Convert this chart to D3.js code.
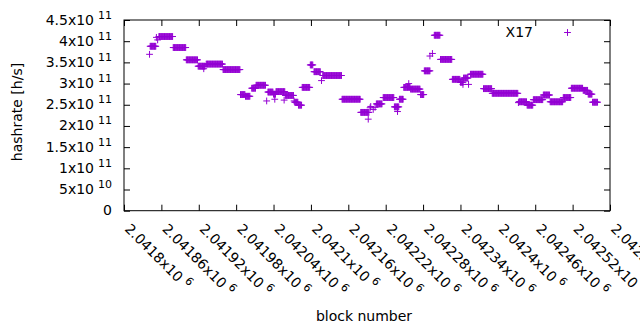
<!DOCTYPE html>
<html><head><meta charset="utf-8">
<script src="https://cdn.jsdelivr.net/npm/d3@7"></script>
<style>
body{margin:0;background:#fff}
svg{display:block}
text{font-family:"DejaVu Sans",sans-serif;fill:#000}
</style>
</head><body>
<svg id="c" width="640" height="330"></svg>
<script>
const seriesName = "X17";
// runs of blocks sharing the same hashrate
const runStart = [2041842,2041856,2041879,2041900,2041919,2041932,2041959,2041987,2041995,2042005,
                  2042012,2042031,2042040,2042044,2042059,2042074,2042080,2042086,2042099,2042105,
                  2042119,2042150,2042180,2042205,2042216,2042234,2042242,2042249,2042260,2042276,
                  2042282,2042298,2042308,2042328,2042340,2042345,2042356,2042377,2042391,2042434,
                  2042447,2042457,2042473,2042484,2042505,2042518,2042537,2042545,2042552];
const runEnd   = [2041851,2041878,2041899,2041918,2041930,2041958,2041986,2041994,2042002,2042011,
                  2042027,2042039,2042043,2042058,2042072,2042079,2042085,2042098,2042103,2042115,
                  2042149,2042179,2042193,2042214,2042233,2042241,2042248,2042259,2042275,2042281,
                  2042291,2042307,2042326,2042339,2042344,2042352,2042376,2042390,2042432,2042446,
                  2042456,2042472,2042483,2042504,2042517,2042536,2042544,2042551,2042560];
const runValue = [3.88e11,4.11e11,3.85e11,3.56e11,3.41e11,3.46e11,3.33e11,2.74e11,2.70e11,2.89e11,
                  2.96e11,2.80e11,2.75e11,2.81e11,2.72e11,2.56e11,2.49e11,2.91e11,3.44e11,3.28e11,
                  3.19e11,2.63e11,2.32e11,2.52e11,2.67e11,2.45e11,2.63e11,2.91e11,2.87e11,2.74e11,
                  3.30e11,4.14e11,3.57e11,3.10e11,3.03e11,3.13e11,3.22e11,2.88e11,2.77e11,2.57e11,
                  2.49e11,2.62e11,2.73e11,2.57e11,2.67e11,2.89e11,2.84e11,2.75e11,2.56e11];
// single off-level blocks
const isoBlock = [2041841,2041852,2041854,2041928,2042029,2042042,2042057,2042073,2042117,2042192,
                  2042195,2042196,2042200,2042203,2042239,2042257,2042291,2042295,2042327,2042344,
                  2042353,2042433];
const isoValue = [3.69e11,4.09e11,4.03e11,3.35e11,2.59e11,2.63e11,2.61e11,2.59e11,3.07e11,2.16e11,
                  2.43e11,2.46e11,2.39e11,2.44e11,2.34e11,3.00e11,3.65e11,3.71e11,3.10e11,2.98e11,
                  2.98e11,2.55e11];

const xTicks = [2041800,2041860,2041920,2041980,2042040,2042100,2042160,2042220,2042280,2042340,2042400,2042460,2042520,2042580];
const xTickLabels = ["2.0418x10^6","2.04186x10^6","2.04192x10^6","2.04198x10^6","2.04204x10^6","2.0421x10^6",
                     "2.04216x10^6","2.04222x10^6","2.04228x10^6","2.04234x10^6","2.0424x10^6","2.04246x10^6",
                     "2.04252x10^6","2.04258x10^6"];
const yTicks = [0,5e10,1e11,1.5e11,2e11,2.5e11,3e11,3.5e11,4e11,4.5e11];
const yTickLabels = ["0","5x10^10","1x10^11","1.5x10^11","2x10^11","2.5x10^11","3x10^11","3.5x10^11","4x10^11","4.5x10^11"];

const color = "#9400d3";
const L=124, R=610, T=20, B=210.7;
const svg = d3.select("#c");
const x = d3.scaleLinear().domain([2041800,2042580]).range([L,R]);
const y = d3.scaleLinear().domain([0,4.5e11]).range([B,T]);

// build point list
const pts = [];
runStart.forEach((s,i)=>{ for(let b=s;b<=runEnd[i];b++) pts.push({b, v:runValue[i]}); });
isoBlock.forEach((b,i)=>pts.push({b, v:isoValue[i]}));

// axes (ticks only, mirrored on all sides)
const tl = 6;
svg.append("g").attr("transform",`translate(0,${B})`)
  .call(d3.axisBottom(x).tickValues(xTicks).tickSize(-tl).tickSizeOuter(0).tickFormat(""));
svg.append("g").attr("transform",`translate(0,${T})`)
  .call(d3.axisTop(x).tickValues(xTicks).tickSize(-tl).tickSizeOuter(0).tickFormat(""));
svg.append("g").attr("transform",`translate(${L},0)`)
  .call(d3.axisLeft(y).tickValues(yTicks).tickSize(-tl).tickSizeOuter(0).tickFormat(""));
svg.append("g").attr("transform",`translate(${R},0)`)
  .call(d3.axisRight(y).tickValues(yTicks).tickSize(-tl).tickSizeOuter(0).tickFormat(""));
svg.selectAll(".domain").remove();
svg.selectAll(".tick line").attr("stroke","#000").attr("stroke-width",1);

svg.append("rect").attr("x",L).attr("y",T).attr("width",R-L).attr("height",B-T)
  .attr("fill","none").attr("stroke","#000").attr("stroke-width",1);

function addLabel(t, str){
  const [m,e] = str.split("^");
  t.append("tspan").text(m);
  if(e) t.append("tspan").attr("dx",4).attr("dy",-6).attr("font-size",11).text(e);
}
// y tick labels
yTicks.forEach((v,i)=>{
  const t = svg.append("text").attr("x",112).attr("y",y(v)+4.5)
    .attr("text-anchor","end").attr("font-size",14);
  addLabel(t, yTickLabels[i]);
});
// x tick labels rotated
xTicks.forEach((v,i)=>{
  const t = svg.append("text").attr("transform",`translate(${x(v)},${B+19}) rotate(45)`)
    .attr("text-anchor","start").attr("font-size",14);
  addLabel(t, xTickLabels[i]);
});

svg.append("text").attr("x",364).attr("y",321).attr("text-anchor","middle").attr("font-size",14).text("block number");
svg.append("text").attr("transform","translate(22,112) rotate(-90)").attr("text-anchor","middle").attr("font-size",14).text("hashrate [h/s]");

// points
const plus = (cx,cy,s)=>`M${cx-s},${cy}h${2*s}M${cx},${cy-s}v${2*s}`;
svg.append("g").selectAll("path").data(pts).join("path")
  .attr("d",d=>plus(x(d.b),y(d.v),3.4))
  .attr("stroke",color).attr("stroke-width",1).attr("fill","none");

// legend
svg.append("text").attr("x",533).attr("y",37).attr("text-anchor","end").attr("font-size",14).text(seriesName);
svg.append("path").attr("d",plus(567.5,32.5,3.4)).attr("stroke",color).attr("stroke-width",1).attr("fill","none");
</script>
</body></html>
